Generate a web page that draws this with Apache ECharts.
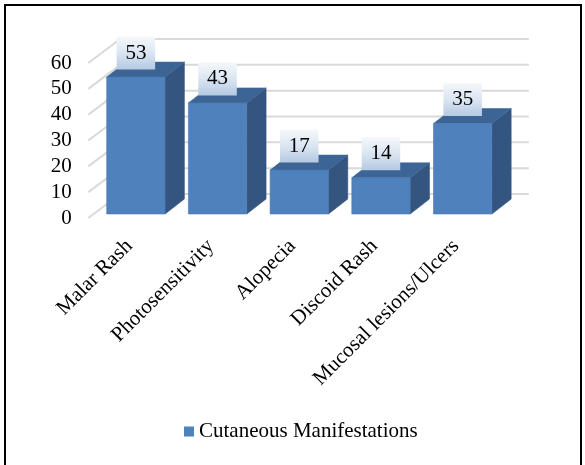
<!DOCTYPE html>
<html>
<head>
<meta charset="utf-8">
<script src="https://cdn.jsdelivr.net/npm/echarts@6/dist/echarts.min.js"></script>
<style>
  html, body { margin: 0; padding: 0; background: #fff; }
  #chart { width: 585px; height: 465px; }
</style>
</head>
<body>
<div id="chart"></div>
<script>
// Cutaneous manifestations – counts per finding
const categories = ['Malar Rash', 'Photosensitivity', 'Alopecia', 'Discoid Rash', 'Mucosal lesions/Ulcers'];
const counts = [53, 43, 17, 14, 35];
const yTicks = [0, 10, 20, 30, 40, 50, 60];
const seriesName = 'Cutaneous Manifestations';

const FONT = '"Liberation Serif", "Times New Roman", serif';
const FONT_SIZE = 21;

// oblique depth used for the 3D look
const WALL_DX = 32, WALL_DY = -24;   // floor front edge -> back wall
const BAR_DX = 19.3, BAR_DY = -15;   // bar front face -> bar back face
const BAR_LIFT = 4;                  // bars sit a little behind the floor front edge

const chart = echarts.init(document.getElementById('chart'), null, { renderer: 'canvas' });

function gridRenderItem(params, api) {
  const v = api.value(1);
  const p = api.coord([0, v]);
  const bw = api.size([1, 0])[0];
  const xl = p[0] - bw / 2;
  const xr = xl + bw * categories.length;
  const y = p[1];
  return {
    type: 'polyline',
    shape: { points: [[xl, y], [xl + WALL_DX, y + WALL_DY], [xr + WALL_DX, y + WALL_DY]] },
    style: { stroke: '#d9d9d9', lineWidth: 2, fill: null }
  };
}

function barRenderItem(params, api) {
  const i = api.value(0), v = api.value(1);
  const base = api.coord([i, 0]);
  const top = api.coord([i, v]);
  const bw = api.size([1, 0])[0];
  const x0 = base[0] - bw * (22.45 / 81.7);
  const x1 = base[0] + bw * (35.9 / 81.7);
  const yb = base[1] - BAR_LIFT;
  const yt = top[1] - BAR_LIFT;
  const front = {
    type: 'rect',
    shape: { x: x0, y: yt, width: x1 - x0, height: yb - yt },
    style: { fill: '#4f81bd', stroke: '#4a79b3', lineWidth: 0.6 }
  };
  const side = {
    type: 'polygon',
    shape: { points: [[x1, yt], [x1 + BAR_DX, yt + BAR_DY], [x1 + BAR_DX, yb + BAR_DY], [x1, yb]] },
    style: { fill: '#34557f', stroke: '#31507a', lineWidth: 0.6 }
  };
  const topFace = {
    type: 'polygon',
    shape: { points: [[x0, yt], [x1, yt], [x1 + BAR_DX, yt + BAR_DY], [x0 + BAR_DX, yt + BAR_DY]] },
    style: { fill: '#3c6494', stroke: '#416b9e', lineWidth: 0.6 }
  };
  const cx = (x0 + x1) / 2;
  const boxW = 38.5, boxH = 33;
  const boxBottom = yt - 7.5;
  const box = {
    type: 'rect',
    shape: { x: cx - boxW / 2, y: boxBottom - boxH, width: boxW, height: boxH },
    style: {
      fill: {
        type: 'linear', x: 0, y: 0, x2: 0, y2: 1,
        colorStops: [
          { offset: 0, color: '#f5f8fc' },
          { offset: 0.5, color: '#dae5f2' },
          { offset: 1, color: '#b5c9e2' }
        ]
      }
    }
  };
  const label = {
    type: 'text',
    x: cx, y: boxBottom - boxH / 2,
    style: {
      text: String(v),
      font: FONT_SIZE + 'px ' + FONT,
      fill: '#000',
      align: 'center',
      verticalAlign: 'middle'
    }
  };
  return { type: 'group', children: [side, topFace, front, box, label] };
}

chart.setOption({
  animation: false,
  backgroundColor: '#fff',
  graphic: [{
    type: 'rect',
    shape: { x: 5, y: 5, width: 576, height: 470 },
    style: { fill: null, stroke: '#000', lineWidth: 2 },
    z: 100
  }],
  grid: { left: 88.3, top: 63, width: 408.5, height: 155, containLabel: false },
  legend: {
    data: [{ name: seriesName, icon: 'rect' }],
    left: 184, top: 421, padding: 0,
    itemWidth: 10, itemHeight: 10,
    textStyle: { fontFamily: FONT, fontSize: FONT_SIZE, color: '#000' }
  },
  xAxis: {
    type: 'category',
    data: categories,
    axisLine: { show: false },
    axisTick: { show: false },
    axisLabel: {
      interval: 0,
      rotate: 45,
      margin: 25,
      fontFamily: FONT, fontSize: FONT_SIZE, color: '#000'
    }
  },
  yAxis: {
    type: 'value',
    min: 0, max: 60, interval: 10,
    axisLine: { show: false },
    axisTick: { show: false },
    splitLine: { show: false },
    axisLabel: { margin: 16.6, fontFamily: FONT, fontSize: FONT_SIZE, color: '#000' }
  },
  series: [
    {
      name: 'gridlines',
      type: 'custom',
      renderItem: gridRenderItem,
      data: yTicks.map(v => [0, v]),
      silent: true,
      z: 1
    },
    {
      name: seriesName,
      type: 'custom',
      renderItem: barRenderItem,
      itemStyle: { color: '#4f81bd' },
      data: counts.map((v, i) => [i, v]),
      z: 2
    }
  ]
});
</script>
</body>
</html>
